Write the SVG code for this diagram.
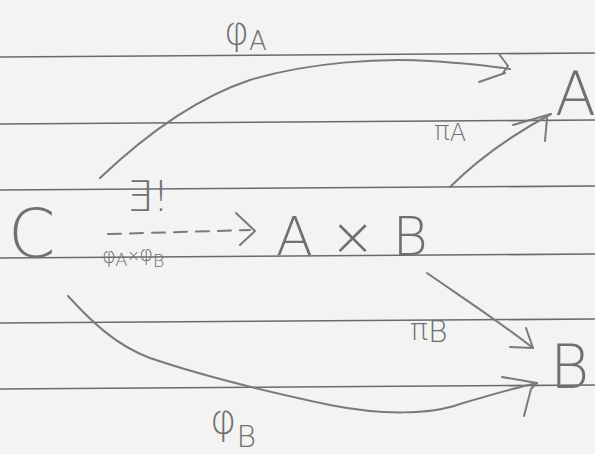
<svg xmlns="http://www.w3.org/2000/svg" width="595" height="454" viewBox="0 0 595 454">
<style>
.rule{stroke:#6a6a6a;stroke-width:1.6;fill:none}
.c{stroke:#7a7a7a;stroke-width:2;fill:none;stroke-linecap:round;stroke-linejoin:round}
.dash{stroke-dasharray:13 9}
.n{font-family:"DejaVu Sans","Liberation Sans",sans-serif;font-weight:200;fill:#707070}
.l{font-family:"DejaVu Sans","Liberation Sans",sans-serif;font-weight:200;fill:#707070}
</style>
<rect width="595" height="454" fill="#f3f3f3"/>
<g id="paper">
<path class="rule" d="M0 57 L595 53"/>
<path class="rule" d="M0 124 L595 120"/>
<path class="rule" d="M0 190 L595 186"/>
<path class="rule" d="M0 258 L595 254"/>
<path class="rule" d="M0 323 L595 319"/>
<path class="rule" d="M0 389 L595 385"/>
</g>
<g id="connectors">
<g id="phiA">
<path class="c" d="M100 178 C 140 140, 190 100, 250 80 C 310 62, 380 58, 430 61 C 460 63, 490 66, 510 69"/>
<path class="c" d="M499 54 L508 66 L503 73 M479 82 L505 73"/>
<text class="l" x="224" y="44" font-size="38">φ<tspan font-size="26" dy="6">A</tspan></text>
</g>
<g id="piA">
<path class="c" d="M450 187 C 475 162, 510 136, 551 114"/>
<path class="c" d="M513 125 L551 114 M547 118 L545 141"/>
<text class="l" x="434" y="140" font-size="26">π<tspan font-size="24" dy="1">A</tspan></text>
</g>
<g id="unique">
<path class="c dash" d="M108 234 L250 230"/>
<path class="c" d="M236 213 L255 231 L240 245"/>
<text class="l" x="126" y="211" font-size="42">∃!</text>
<text class="l" x="102" y="263" font-size="21" letter-spacing="-0.5">φ<tspan font-size="18" dy="3">A</tspan><tspan font-size="15" dy="-5">×</tspan>φ<tspan font-size="18" dy="6">B</tspan></text>
</g>
<g id="piB">
<path class="c" d="M427 273 C 460 296, 500 322, 533 348"/>
<path class="c" d="M526 328 L533 348 L510 347"/>
<text class="l" x="410" y="340" font-size="30">π<tspan font-size="30" dy="2">B</tspan></text>
</g>
<g id="phiB">
<path class="c" d="M68 296 C 90 320, 115 345, 150 358 C 200 375, 250 388, 330 405 C 380 415, 430 415, 460 404 C 490 395, 515 388, 537 383"/>
<path class="c" d="M502 377 L537 383 L531 389 L524 416"/>
<text class="l" x="210" y="433" font-size="40">φ<tspan font-size="30" dy="14">B</tspan></text>
</g>
</g>
<g id="node-C"><text class="n" x="8" y="257" font-size="68">C</text></g>
<g id="node-AxB"><text class="n" x="276" y="255" font-size="54">A × B</text></g>
<g id="node-A"><text class="n" x="555" y="115" font-size="60">A</text></g>
<g id="node-B"><text class="n" x="550" y="388" font-size="60">B</text></g>
</svg>
